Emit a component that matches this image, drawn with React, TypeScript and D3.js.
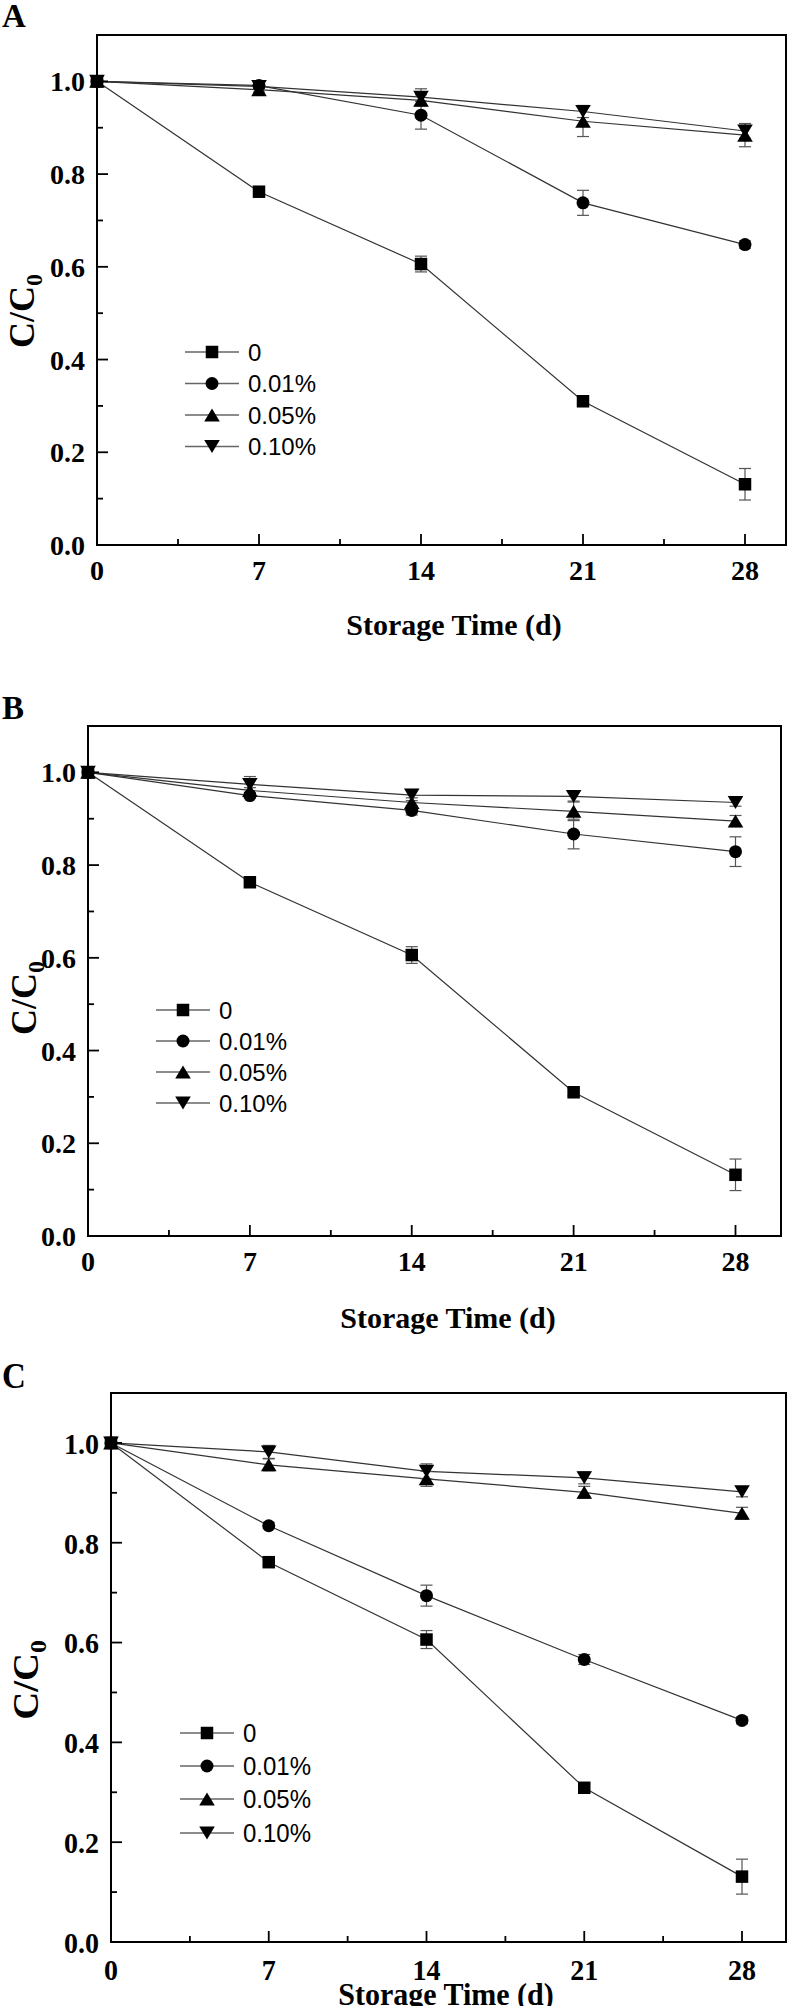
import React from "react";
import * as d3 from "d3";

// ---------- data ----------
const days = [0, 7, 14, 21, 28];
const legendLabels = ["0", "0.01%", "0.05%", "0.10%"];
const yTicks = [0, 0.2, 0.4, 0.6, 0.8, 1.0];
const yMinorTicks = [0.1, 0.3, 0.5, 0.7, 0.9];
const xTicks = [0, 7, 14, 21, 28];
const xMinorTicks = [3.5, 10.5, 17.5, 24.5];

// Panel A
const aCtrl = [1.0, 0.762, 0.606, 0.31, 0.131];
const aCtrlErr = [0.004, 0.005, 0.017, 0.008, 0.034];
const a001 = [1.0, 0.991, 0.927, 0.738, 0.648];
const a001Err = [0.004, 0.006, 0.03, 0.027, 0.008];
const a005 = [1.0, 0.982, 0.959, 0.914, 0.884];
const a005Err = [0.004, 0.005, 0.012, 0.033, 0.025];
const a010 = [1.0, 0.989, 0.966, 0.935, 0.893];
const a010Err = [0.004, 0.005, 0.018, 0.013, 0.016];

// Panel B
const bCtrl = [1.0, 0.763, 0.606, 0.31, 0.132];
const bCtrlErr = [0.004, 0.005, 0.018, 0.008, 0.034];
const b001 = [1.0, 0.95, 0.918, 0.867, 0.829];
const b001Err = [0.004, 0.006, 0.01, 0.032, 0.032];
const b005 = [1.0, 0.961, 0.935, 0.916, 0.895];
const b005Err = [0.004, 0.006, 0.01, 0.02, 0.012];
const b010 = [1.0, 0.974, 0.951, 0.948, 0.935];
const b010Err = [0.004, 0.017, 0.012, 0.01, 0.008];

// Panel C
const cCtrl = [1.0, 0.761, 0.606, 0.309, 0.131];
const cCtrlErr = [0.004, 0.005, 0.018, 0.008, 0.035];
const c001 = [1.0, 0.834, 0.694, 0.566, 0.444];
const c001Err = [0.004, 0.006, 0.021, 0.01, 0.007];
const c005 = [1.0, 0.956, 0.928, 0.901, 0.859];
const c005Err = [0.004, 0.012, 0.015, 0.012, 0.012];
const c010 = [1.0, 0.982, 0.943, 0.93, 0.902];
const c010Err = [0.004, 0.013, 0.015, 0.012, 0.01];

// ---------- layout ----------
const SERIF = '"Liberation Serif", "Times New Roman", Times, serif';
const SANS = '"Liberation Sans", Arial, Helvetica, sans-serif';

type Panel = {
  label: string;
  labelY: number;
  left: number;
  x28: number;
  right: number;
  top: number;
  bottom: number;
  sy: number;
  values: number[][];
  errors: number[][];
  legendX: number;
  legendY: number[];
  titleX: number;
  titleY: number;
  yTitleX: number;
  yTitleY: number;
};

const panels: Panel[] = [
  {
    label: "A", labelY: 27,
    left: 97, x28: 745, right: 786, top: 35, bottom: 545, sy: 1,
    values: [aCtrl, a001, a005, a010],
    errors: [aCtrlErr, a001Err, a005Err, a010Err],
    legendX: 185, legendY: [352, 383.5, 415, 446.5],
    titleX: 454, titleY: 635, yTitleX: 34, yTitleY: 311,
  },
  {
    label: "B", labelY: 719,
    left: 88, x28: 735.5, right: 781, top: 726, bottom: 1236, sy: 1,
    values: [bCtrl, b001, b005, b010],
    errors: [bCtrlErr, b001Err, b005Err, b010Err],
    legendX: 156, legendY: [1010, 1041, 1072, 1103],
    titleX: 448, titleY: 1328, yTitleX: 36, yTitleY: 998,
  },
  {
    label: "C", labelY: 1388,
    left: 111, x28: 742, right: 786, top: 1393, bottom: 1942, sy: 1.078,
    values: [cCtrl, c001, c005, c010],
    errors: [cCtrlErr, c001Err, c005Err, c010Err],
    legendX: 180, legendY: [1733, 1766, 1799, 1833],
    titleX: 446, titleY: 2005, yTitleX: 38, yTitleY: 1680,
  },
];

const markerSizes = [12.5, 13, 13, 13];

// marker shapes (centered at 0,0)
function markerPath(kind: number, s: number): string {
  const p = d3.path();
  if (kind === 0) {
    p.rect(-s / 2, -s / 2, s, s);
  } else if (kind === 1) {
    p.arc(0, 0, s / 2, 0, Math.PI * 2);
  } else if (kind === 2) {
    const w = s * 1.2, h = s;
    p.moveTo(0, -h / 2);
    p.lineTo(w / 2, h / 2);
    p.lineTo(-w / 2, h / 2);
    p.closePath();
  } else {
    const w = s * 1.2, h = s;
    p.moveTo(0, h / 2);
    p.lineTo(w / 2, -h / 2);
    p.lineTo(-w / 2, -h / 2);
    p.closePath();
  }
  return p.toString();
}

function T(props: {
  x: number;
  y: number;
  sy: number;
  size: number;
  anchor?: string;
  family?: string;
  bold?: boolean;
  rotate?: number;
  children: React.ReactNode;
}) {
  const { x, y, sy, size, anchor, family, bold, rotate, children } = props;
  const tr = rotate
    ? `translate(${x},${y}) scale(1,${sy}) rotate(${rotate})`
    : `translate(${x},${y}) scale(1,${sy})`;
  return (
    <text
      transform={tr}
      textAnchor={anchor || "start"}
      fontFamily={family || SERIF}
      fontWeight={bold ? "bold" : "normal"}
      fontSize={size}
      fill="#000"
    >
      {children}
    </text>
  );
}

function PanelView({ pn }: { pn: Panel }) {
  const x = d3.scaleLinear().domain([0, 28]).range([pn.left, pn.x28]);
  const y = d3.scaleLinear().domain([0, 1.1]).range([pn.bottom, pn.top]);
  const line = d3
    .line<number>()
    .x((_, i) => x(days[i]))
    .y((v) => y(v));
  const majorLen = 11;
  const minorLen = 6;
  const cap = 6;
  const sy = pn.sy;
  return (
    <g>
      <T x={2} y={pn.labelY} sy={sy} size={33} bold>
        {pn.label}
      </T>

      {/* series lines */}
      {pn.values.map((vals, si) => (
        <path key={"l" + si} d={line(vals) || ""} fill="none" stroke="#333" strokeWidth={1.2} />
      ))}

      {/* error bars */}
      {pn.values.map((vals, si) =>
        vals.map((v, i) => {
          const e = pn.errors[si][i];
          const cx = x(days[i]);
          return (
            <g key={"e" + si + "-" + i} stroke="#555" strokeWidth={1.2}>
              <line x1={cx} x2={cx} y1={y(v + e)} y2={y(v - e)} />
              <line x1={cx - cap} x2={cx + cap} y1={y(v + e)} y2={y(v + e)} />
              <line x1={cx - cap} x2={cx + cap} y1={y(v - e)} y2={y(v - e)} />
            </g>
          );
        })
      )}

      {/* markers */}
      {pn.values.map((vals, si) =>
        vals.map((v, i) => (
          <path
            key={"m" + si + "-" + i}
            d={markerPath(si, markerSizes[si])}
            transform={`translate(${x(days[i])},${y(v)})`}
            fill="#000"
          />
        ))
      )}

      {/* frame */}
      <rect
        x={pn.left}
        y={pn.top}
        width={pn.right - pn.left}
        height={pn.bottom - pn.top}
        fill="none"
        stroke="#000"
        strokeWidth={2}
      />

      {/* x ticks */}
      {xTicks.map((t) => (
        <g key={"xt" + t}>
          <line x1={x(t)} x2={x(t)} y1={pn.bottom} y2={pn.bottom - majorLen} stroke="#000" strokeWidth={1.8} />
          <T x={x(t)} y={pn.bottom + 35 * sy} sy={sy} size={28} anchor="middle" bold>
            {t}
          </T>
        </g>
      ))}
      {xMinorTicks.map((t) => (
        <line key={"xm" + t} x1={x(t)} x2={x(t)} y1={pn.bottom} y2={pn.bottom - minorLen} stroke="#000" strokeWidth={1.8} />
      ))}

      {/* y ticks */}
      {yTicks.map((t) => (
        <g key={"yt" + t}>
          <line x1={pn.left} x2={pn.left + majorLen} y1={y(t)} y2={y(t)} stroke="#000" strokeWidth={1.8} />
          <T x={pn.left - 12} y={y(t) + 10 * sy} sy={sy} size={28} anchor="end" bold>
            {d3.format(".1f")(t)}
          </T>
        </g>
      ))}
      {yMinorTicks.map((t) => (
        <line key={"ym" + t} x1={pn.left} x2={pn.left + minorLen} y1={y(t)} y2={y(t)} stroke="#000" strokeWidth={1.8} />
      ))}

      {/* axis titles */}
      <T x={pn.titleX} y={pn.titleY} sy={sy} size={30} anchor="middle" bold>
        Storage Time (d)
      </T>
      <T x={pn.yTitleX} y={pn.yTitleY} sy={sy} size={36} anchor="middle" bold rotate={-90}>
        C/C
        <tspan fontSize={24} dy={8}>0</tspan>
      </T>

      {/* legend */}
      {legendLabels.map((lab, si) => {
        const ly = pn.legendY[si];
        return (
          <g key={"lg" + si}>
            <line x1={pn.legendX} x2={pn.legendX + 54} y1={ly} y2={ly} stroke="#666" strokeWidth={1.5} />
            <path
              d={markerPath(si, markerSizes[si])}
              transform={`translate(${pn.legendX + 27},${ly})`}
              fill="#000"
            />
            <T x={pn.legendX + 63} y={ly + 8.5 * sy} sy={sy} size={24} family={SANS}>
              {lab}
            </T>
          </g>
        );
      })}
    </g>
  );
}

export default function App() {
  return (
    <svg
      width={792}
      height={2006}
      viewBox="0 0 792 2006"
      style={{ position: "absolute", left: 0, top: 0, background: "#fff" }}
    >
      <rect x={0} y={0} width={792} height={2006} fill="#fff" />
      {panels.map((pn) => (
        <PanelView key={pn.label} pn={pn} />
      ))}
    </svg>
  );
}
